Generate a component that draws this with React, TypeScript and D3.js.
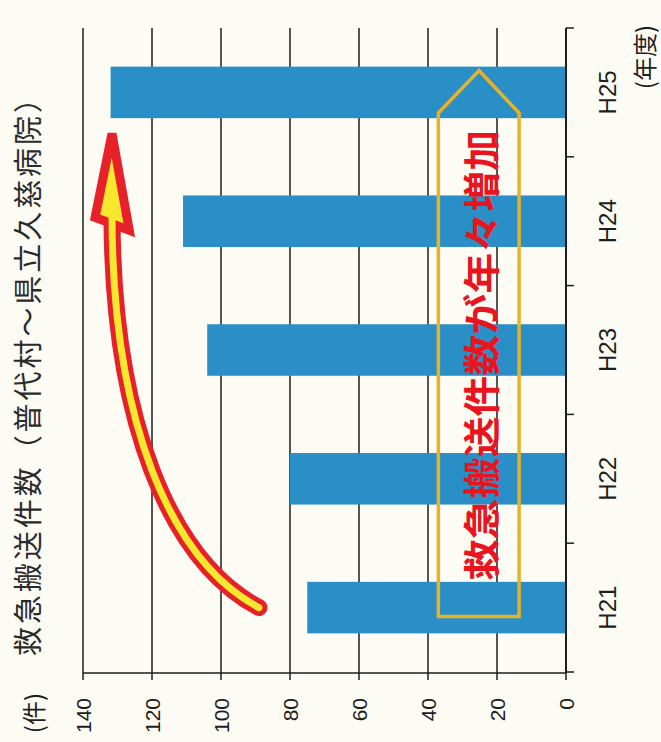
import * as d3 from 'd3';

// data
const years = ['H21', 'H22', 'H23', 'H24', 'H25'];
const counts = [75, 80, 104, 111, 132];
const valueTicks = [0, 20, 40, 60, 80, 100, 120, 140];

const title = '救急搬送件数（普代村～県立久慈病院）';
const unitLabel = '(件)';
const yearLabel = '(年度)';
const calloutText = '救急搬送件数が年々増加';

// annotations, in [category index, value] units
const arrowCurve = [[0, 89], [0.37, 115], [1.46, 131.6], [3.06, 131.6]];
const arrowHead = [[3.68, 131.6], [3.03, 136.5], [2.93, 126.6]];
const calloutBox = [[-0.07, 37], [3.84, 37], [4.17, 25.2], [3.84, 13.6], [-0.07, 13.6]];
const calloutSpan = [0.21, 3.71];
const calloutValue = 25;

const W = 661;
const H = 742;

const BLUE = '#2a8fc6';
const INK = '#1e1e1e';
const LATIN = '"Liberation Sans", Arial, sans-serif';
const CJK = '"Noto Sans CJK JP", "Noto Sans", sans-serif';

export default function App() {
  // the chart is drawn upright in a 742 x 661 frame and turned a quarter left
  const x = d3.scaleBand<string>().domain(years).range([70, 714]).paddingInner(0.6).paddingOuter(0.3);
  const y = d3.scaleLinear().domain([0, 140]).range([566, 83]);
  const bw = x.bandwidth();
  const catPos = d3.scaleLinear().domain([0, years.length - 1])
    .range([x(years[0])! + bw / 2, x(years[years.length - 1])! + bw / 2]);

  const pt = (p: number[]) => [catPos(p[0]), y(p[1])];

  const curve = d3.path();
  const [p0, p1, p2, p3] = arrowCurve.map(pt);
  curve.moveTo(p0[0], p0[1]);
  curve.bezierCurveTo(p1[0], p1[1], p2[0], p2[1], p3[0], p3[1]);

  const head = arrowHead.map(pt).map(p => p.join(',')).join(' ');
  const box = d3.line()(calloutBox.map(pt) as [number, number][]) + 'Z';

  const boundaries = d3.range(years.length + 1).map(i => 70 + i * x.step());

  return (
    <svg width={W} height={H} style={{ position: 'absolute', left: 0, top: 0, background: '#fcfbf4' }}>
      <g transform={`translate(0,${H}) rotate(-90)`}>
        {/* grid */}
        {valueTicks.map(t => (
          <line key={t} x1={62} x2={714} y1={y(t)} y2={y(t)} stroke={INK} strokeWidth={1.5} />
        ))}
        {/* value axis */}
        <line x1={69} x2={69} y1={y(140)} y2={y(0)} stroke={INK} strokeWidth={1.5} />
        {valueTicks.map(t => (
          <text key={t} x={44} y={y(t)} textAnchor="end" dominantBaseline="central"
            fontFamily={LATIN} fontSize={21} fill={INK}>{t}</text>
        ))}
        {/* bars */}
        {years.map((yr, i) => (
          <rect key={yr} x={x(yr)} y={y(counts[i])} width={bw} height={y(0) - y(counts[i])} fill={BLUE} />
        ))}
        {/* category axis */}
        <line x1={69} x2={714} y1={y(0)} y2={y(0)} stroke={INK} strokeWidth={2} />
        {boundaries.map(b => (
          <line key={b} x1={b} x2={b} y1={y(0)} y2={y(0) + 8} stroke={INK} strokeWidth={1.5} />
        ))}
        {years.map(yr => (
          <text key={yr} x={x(yr)! + bw / 2} y={607} textAnchor="middle" dominantBaseline="central"
            fontFamily={LATIN} fontSize={24} fill={INK}>{yr}</text>
        ))}
        <text x={685} y={643} textAnchor="middle" dominantBaseline="central"
          fontFamily={CJK} fontSize={24} fill={INK}>{yearLabel}</text>
        <text x={49} y={32} textAnchor="end" dominantBaseline="central"
          fontFamily={CJK} fontSize={24} fill={INK}>{unitLabel}</text>
        <text x={86} y={26} textLength={572} lengthAdjust="spacing" dominantBaseline="central"
          fontFamily={CJK} fontSize={29} fill="#2a2a2a">{title}</text>

        {/* arrow */}
        <path d={curve.toString()} fill="none" stroke="#e8202a" strokeWidth={17} strokeLinecap="round" />
        <polygon points={head} fill="#f7e82e" stroke="#e8202a" strokeWidth={9} strokeLinejoin="miter" />
        <path d={curve.toString()} fill="none" stroke="#f7e82e" strokeWidth={7} strokeLinecap="round" />

        {/* callout */}
        <path d={box} fill="none" stroke="#e6b22a" strokeWidth={3.5} strokeLinejoin="miter" />
        <text x={catPos(calloutSpan[0])} y={y(calloutValue)} textLength={catPos(calloutSpan[1]) - catPos(calloutSpan[0])}
          lengthAdjust="spacingAndGlyphs" dominantBaseline="central"
          fontFamily={CJK} fontWeight="bold" fontSize={37} fill="#e8141e">{calloutText}</text>
      </g>
    </svg>
  );
}
